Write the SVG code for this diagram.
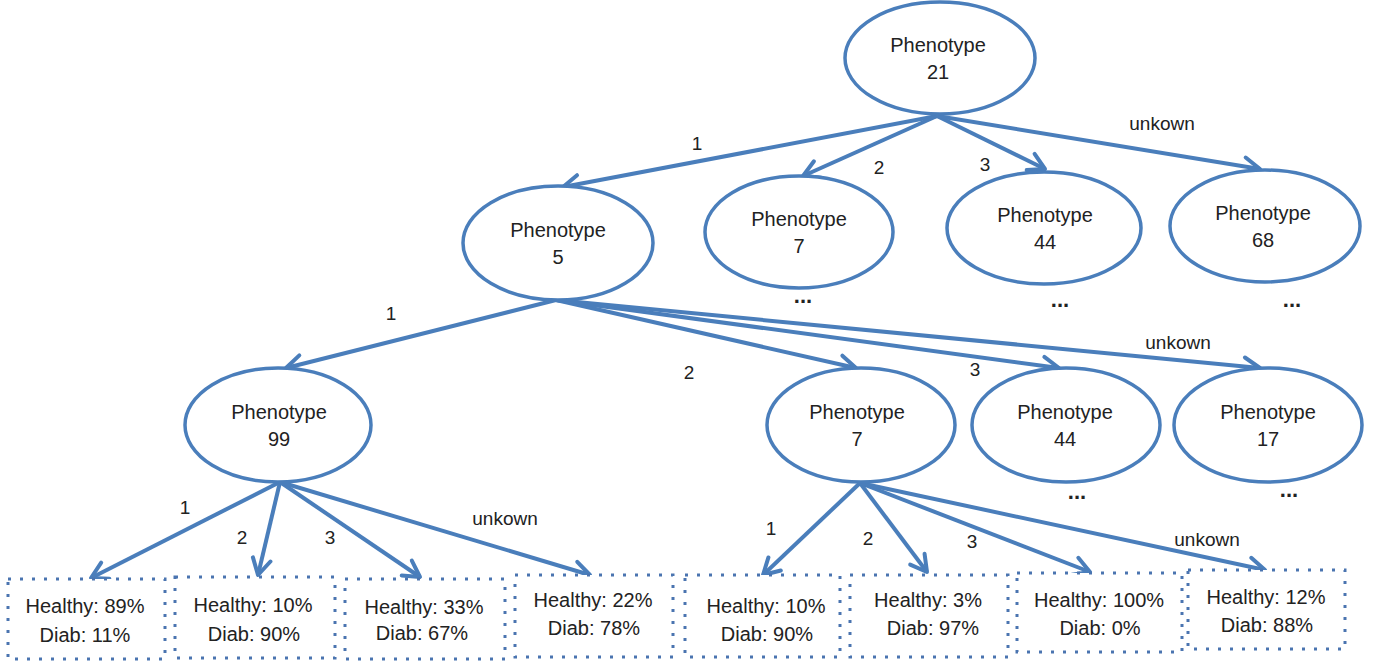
<svg xmlns="http://www.w3.org/2000/svg" width="1381" height="668" viewBox="0 0 1381 668">
<style>
.n{fill:#fff;stroke:#4a7ebb;stroke-width:3.5}
.t{font-family:"Liberation Sans",Arial,sans-serif;font-size:20px;fill:#222;text-anchor:middle}
.lb{font-family:"Liberation Sans",Arial,sans-serif;font-size:19px;fill:#222;text-anchor:middle}
.dots{font-family:"Liberation Sans",Arial,sans-serif;font-size:22px;font-weight:bold;fill:#222;text-anchor:middle}
.e{stroke:#4a7ebb;stroke-width:4;fill:none;marker-end:url(#ah)}
.leaf{fill:#fff;stroke:#4a74b0;stroke-width:3;stroke-dasharray:3 9}
</style>
<defs>
<marker id="ah" markerUnits="userSpaceOnUse" markerWidth="40" markerHeight="40" viewBox="-20 -20 40 40" refX="0" refY="0" orient="auto" overflow="visible">
<path d="M-16,-9 L0,0 L-16,9" fill="none" stroke="#4a7ebb" stroke-width="4" stroke-linejoin="round" stroke-linecap="round"/>
</marker>
</defs>
<rect width="1381" height="668" fill="#fff"/>

<g id="connectors">
<line class="e" x1="937" y1="116" x2="563" y2="187"/>
<line class="e" x1="937" y1="116" x2="803" y2="176"/>
<line class="e" x1="937" y1="116" x2="1045" y2="169"/>
<line class="e" x1="937" y1="116" x2="1260" y2="169"/>
<line class="e" x1="556" y1="300" x2="286" y2="368"/>
<line class="e" x1="556" y1="300" x2="856" y2="368"/>
<line class="e" x1="556" y1="300" x2="1059" y2="368"/>
<line class="e" x1="556" y1="300" x2="1260" y2="368"/>
<line class="e" x1="280" y1="482" x2="91" y2="578"/>
<line class="e" x1="280" y1="482" x2="258" y2="575"/>
<line class="e" x1="280" y1="482" x2="420" y2="577"/>
<line class="e" x1="280" y1="482" x2="590" y2="575"/>
<line class="e" x1="860" y1="483" x2="763" y2="575"/>
<line class="e" x1="860" y1="483" x2="927" y2="572"/>
<line class="e" x1="860" y1="483" x2="1090" y2="572"/>
<line class="e" x1="860" y1="483" x2="1265" y2="570"/>
</g>

<g id="edge-labels">
<text class="lb" x="697" y="150">1</text>
<text class="lb" x="879" y="174">2</text>
<text class="lb" x="985" y="171">3</text>
<text class="lb" x="1162" y="130">unkown</text>
<text class="lb" x="391" y="320">1</text>
<text class="lb" x="689" y="379">2</text>
<text class="lb" x="975" y="376">3</text>
<text class="lb" x="1178" y="349">unkown</text>
<text class="lb" x="185" y="514">1</text>
<text class="lb" x="242" y="544">2</text>
<text class="lb" x="330" y="544">3</text>
<text class="lb" x="505" y="525">unkown</text>
<text class="lb" x="771" y="535">1</text>
<text class="lb" x="868" y="545">2</text>
<text class="lb" x="972" y="548">3</text>
<text class="lb" x="1207" y="546">unkown</text>
</g>

<g id="n21"><ellipse class="n" cx="940" cy="58" rx="95" ry="56"/><text class="t" x="938" y="52">Phenotype</text><text class="t" x="938" y="79">21</text></g>

<g id="n5"><ellipse class="n" cx="558" cy="243" rx="95" ry="57"/><text class="t" x="558" y="237">Phenotype</text><text class="t" x="558" y="264">5</text></g>
<g id="n7a"><ellipse class="n" cx="799" cy="232" rx="94" ry="56"/><text class="t" x="799" y="226">Phenotype</text><text class="t" x="799" y="253">7</text></g>
<g id="n44a"><ellipse class="n" cx="1044" cy="228" rx="97" ry="56"/><text class="t" x="1045" y="222">Phenotype</text><text class="t" x="1045" y="249">44</text></g>
<g id="n68"><ellipse class="n" cx="1265" cy="226" rx="95" ry="56"/><text class="t" x="1263" y="220">Phenotype</text><text class="t" x="1263" y="247">68</text></g>

<g id="n99"><ellipse class="n" cx="278" cy="425" rx="93" ry="57"/><text class="t" x="279" y="419">Phenotype</text><text class="t" x="279" y="446">99</text></g>
<g id="n7b"><ellipse class="n" cx="861" cy="425" rx="94" ry="57"/><text class="t" x="857" y="419">Phenotype</text><text class="t" x="857" y="446">7</text></g>
<g id="n44b"><ellipse class="n" cx="1066" cy="425" rx="94" ry="57"/><text class="t" x="1065" y="419">Phenotype</text><text class="t" x="1065" y="446">44</text></g>
<g id="n17"><ellipse class="n" cx="1268" cy="425" rx="94" ry="57"/><text class="t" x="1268" y="419">Phenotype</text><text class="t" x="1268" y="446">17</text></g>

<g id="ellipses-more">
<text class="dots" x="803" y="303">...</text>
<text class="dots" x="1060" y="307">...</text>
<text class="dots" x="1292" y="307">...</text>
<text class="dots" x="1077" y="499">...</text>
<text class="dots" x="1289" y="497">...</text>
</g>

<g id="leaf1"><rect class="leaf" x="8" y="579" width="157" height="80"/><text class="t" x="85" y="613">Healthy: 89%</text><text class="t" x="85" y="642">Diab: 11%</text></g>
<g id="leaf2"><rect class="leaf" x="175" y="577" width="160" height="81"/><text class="t" x="253" y="612">Healthy: 10%</text><text class="t" x="254" y="641">Diab: 90%</text></g>
<g id="leaf3"><rect class="leaf" x="345" y="579" width="160" height="80"/><text class="t" x="424" y="614">Healthy: 33%</text><text class="t" x="422" y="640">Diab: 67%</text></g>
<g id="leaf4"><rect class="leaf" x="515" y="575" width="158" height="82"/><text class="t" x="593" y="607">Healthy: 22%</text><text class="t" x="594" y="635">Diab: 78%</text></g>
<g id="leaf5"><rect class="leaf" x="685" y="575" width="155" height="82"/><text class="t" x="766" y="613">Healthy: 10%</text><text class="t" x="767" y="641">Diab: 90%</text></g>
<g id="leaf6"><rect class="leaf" x="850" y="575" width="158" height="82"/><text class="t" x="928" y="607">Healthy: 3%</text><text class="t" x="933" y="635">Diab: 97%</text></g>
<g id="leaf7"><rect class="leaf" x="1017" y="573" width="165" height="79"/><text class="t" x="1099" y="607">Healthy: 100%</text><text class="t" x="1100" y="635">Diab: 0%</text></g>
<g id="leaf8"><rect class="leaf" x="1188" y="570" width="157" height="79"/><text class="t" x="1266" y="604">Healthy: 12%</text><text class="t" x="1267" y="632">Diab: 88%</text></g>
</svg>
